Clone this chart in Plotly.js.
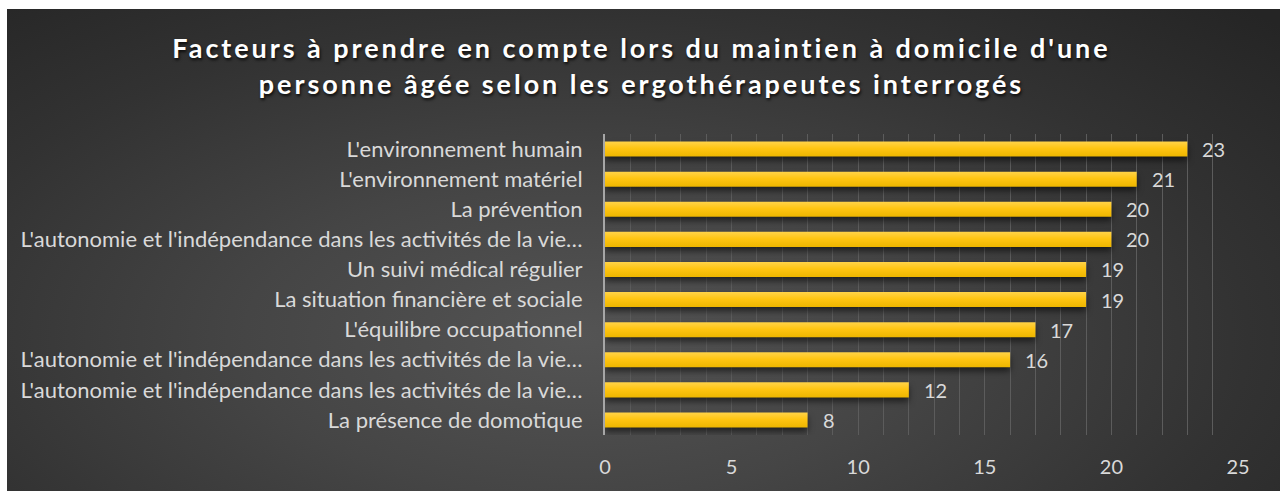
<!DOCTYPE html>
<html>
<head>
<meta charset="utf-8">
<script src="https://cdn.plot.ly/plotly-3.0.1.min.js"></script>
<style>
  html, body { margin:0; padding:0; background:#ffffff; }
  #bg { position:absolute; left:7px; top:9px; width:1273px; height:482px;
        background: radial-gradient(ellipse 75% 95% at 45% 68%, #545454 0%, #454545 35%, #323232 70%, #252525 100%); }
  #chart { position:absolute; left:0; top:0; width:1283px; height:491px; }
  .gtitle { letter-spacing: 2.95px; }
  .bars .point path { fill: url(#barGrad) !important; filter: drop-shadow(0px 4px 3px rgba(0,0,0,0.55)); }
</style>
</head>
<body>
<svg width="0" height="0" style="position:absolute">
  <defs>
    <linearGradient id="barGrad" x1="0" y1="0" x2="0" y2="1">
      <stop offset="0%" stop-color="#FFD34A"/>
      <stop offset="45%" stop-color="#FFC512"/>
      <stop offset="100%" stop-color="#EDB600"/>
    </linearGradient>
  </defs>
</svg>
<div id="bg"></div>
<div id="chart"></div>
<script>
const categories = [
  "L'environnement humain",
  "L'environnement matériel",
  "La prévention",
  "L'autonomie et l'indépendance dans les activités de la vie…",
  "Un suivi médical régulier",
  "La situation financière et sociale",
  "L'équilibre occupationnel",
  "L'autonomie et l'indépendance dans les activités de la vie…",
  "L'autonomie et l'indépendance dans les activités de la vie…",
  "La présence de domotique"
];
const values = [23, 21, 20, 20, 19, 19, 17, 16, 12, 8];
const xTicks = [0, 5, 10, 15, 20, 25];
const titleText = "Facteurs à prendre en compte lors du maintien à domicile d'une<br>personne âgée selon les ergothérapeutes interrogés";

const FONT = "Lato, 'Open Sans', sans-serif";
const grid = "#5c5c5c";
const positions = categories.map((c, i) => i);

const trace = {
  type: 'bar',
  orientation: 'h',
  y: positions,
  x: values,
  width: 0.5,
  marker: { color: '#FFC000', line: { width: 0 } },
  hoverinfo: 'skip'
};

const annotations = values.map((v, i) => ({
  x: v, y: positions[i], xref: 'x', yref: 'y',
  text: String(v), showarrow: false, xanchor: 'left', xshift: 13,
  font: { family: FONT, size: 20, color: '#d9d9d9' }
}));

const layout = {
  width: 1283, height: 491,
  paper_bgcolor: 'rgba(0,0,0,0)',
  plot_bgcolor: 'rgba(0,0,0,0)',
  margin: { l: 605, r: 45, t: 134, b: 56 },
  title: {
    text: titleText,
    x: 0.5, xref: 'container', xanchor: 'center',
    y: 0.881, yref: 'container', yanchor: 'middle',
    font: { family: FONT, size: 27, weight: 700, color: '#ffffff', shadow: '1px 2px 3px rgba(0,0,0,0.8)' }
  },
  showlegend: false,
  xaxis: {
    range: [0, 25],
    tickvals: xTicks,
    ticktext: xTicks.map(String),
    showgrid: true, gridcolor: grid, gridwidth: 1,
    minor: { dtick: 1, showgrid: true, gridcolor: grid, gridwidth: 1 },
    zeroline: false, showline: false,
    ticks: '', ticklabelstandoff: 18,
    tickfont: { family: FONT, size: 20, color: '#d9d9d9' },
    fixedrange: true
  },
  yaxis: {
    range: [categories.length - 0.5, -0.5],
    tickvals: positions,
    ticktext: categories,
    showgrid: false, zeroline: false,
    showline: true, linecolor: '#a6a6a6', linewidth: 2,
    ticks: '', ticklabelstandoff: 16,
    tickfont: { family: FONT, size: 22, color: '#d9d9d9' },
    fixedrange: true
  },
  annotations: annotations
};

Plotly.newPlot('chart', [trace], layout, { displayModeBar: false, staticPlot: true });
</script>
</body>
</html>
